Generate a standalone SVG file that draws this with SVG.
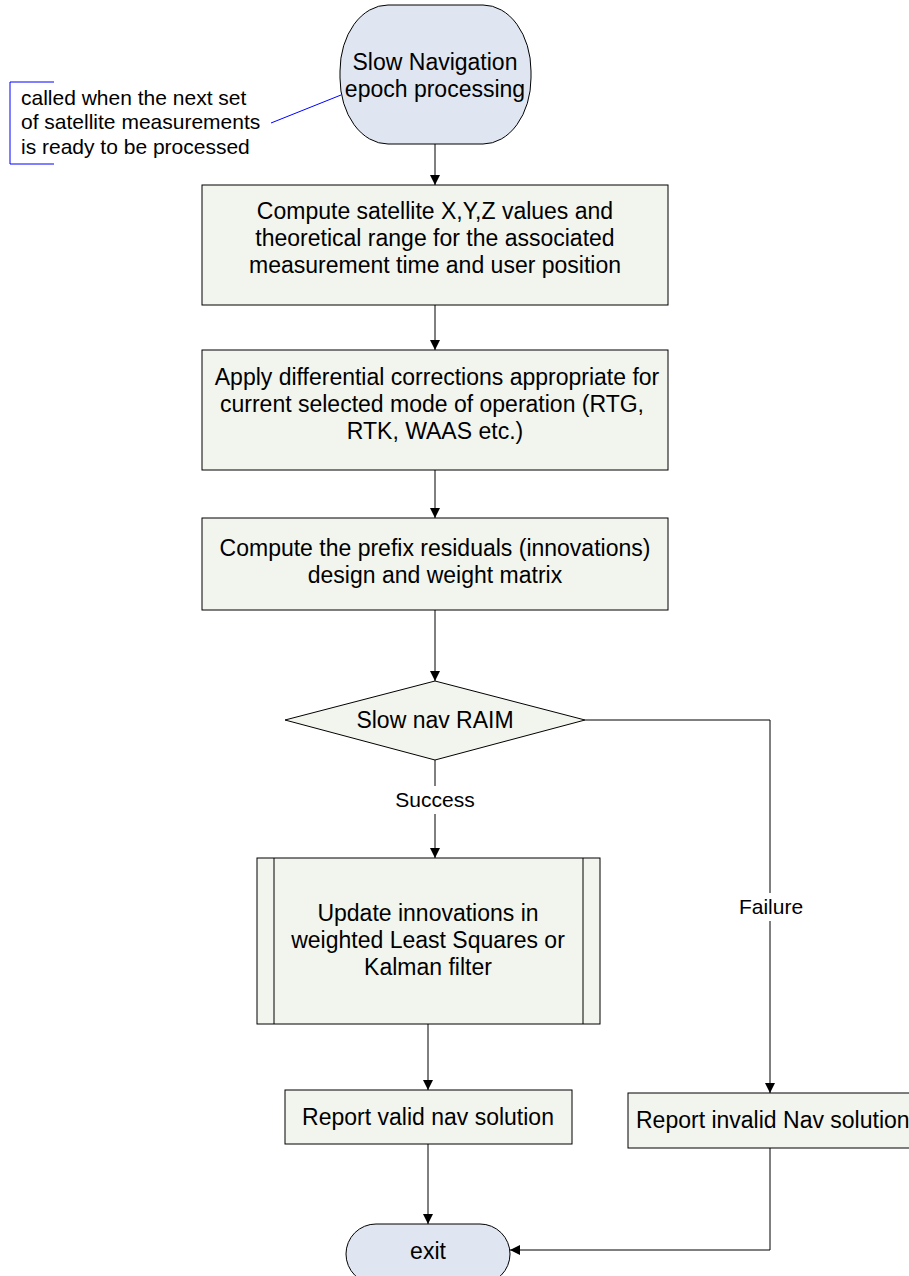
<svg xmlns="http://www.w3.org/2000/svg" width="909" height="1276" viewBox="0 0 909 1276">
  <style>
    text { font-family: "Liberation Sans", Arial, sans-serif; font-size: 23px; fill: #000; }
    .c { text-anchor: middle; }
    .box { fill: #f2f5ee; stroke: #000; stroke-width: 1; }
    .term { fill: #dfe6f1; stroke: #000; stroke-width: 1; }
    .wire { fill: none; stroke: #000; stroke-width: 1; }
    .lbl { font-size: 21px; }
  </style>
  <defs>
    <marker id="arrow" viewBox="0 0 10 10" refX="10" refY="5" markerWidth="10" markerHeight="10" markerUnits="userSpaceOnUse" orient="auto">
      <path d="M0,0 L10,5 L0,10 z" fill="#000"/>
    </marker>
  </defs>
  <rect width="909" height="1276" fill="#fff"/>

  <!-- connectors -->
  <g id="connectors">
    <line class="wire" x1="435" y1="144" x2="435" y2="185" marker-end="url(#arrow)"/>
    <line class="wire" x1="435" y1="305" x2="435" y2="350" marker-end="url(#arrow)"/>
    <line class="wire" x1="435" y1="470" x2="435" y2="518" marker-end="url(#arrow)"/>
    <line class="wire" x1="435" y1="610" x2="435" y2="681" marker-end="url(#arrow)"/>
    <line class="wire" x1="435" y1="760" x2="435" y2="858" marker-end="url(#arrow)"/>
    <line class="wire" x1="428" y1="1024" x2="428" y2="1090" marker-end="url(#arrow)"/>
    <line class="wire" x1="428" y1="1144" x2="428" y2="1224" marker-end="url(#arrow)"/>
    <polyline class="wire" points="585,720 770,720 770,1093" marker-end="url(#arrow)"/>
    <polyline class="wire" points="770,1148 770,1250 510,1250" marker-end="url(#arrow)"/>
    <rect x="390" y="786" width="90" height="28" fill="#fff"/>
    <text class="c lbl" x="435" y="807">Success</text>
    <rect x="734" y="893" width="74" height="28" fill="#fff"/>
    <text class="c lbl" x="771" y="914">Failure</text>
    <!-- annotation callout -->
    <line x1="271" y1="123" x2="341" y2="95" stroke="#0000ff" stroke-width="1"/>
  </g>

  <g id="note">
    <polyline points="54,82 10,82 10,164 54,164" fill="none" stroke="#0000ff" stroke-width="1"/>
    <text x="21" y="105" class="lbl">called when the next set</text>
    <text x="21" y="129" class="lbl">of satellite measurements</text>
    <text x="21" y="154" class="lbl">is ready to be processed</text>
  </g>

  <g id="start">
    <rect class="term" x="340" y="5" width="191" height="139" rx="48" ry="66"/>
    <text class="c" x="435" y="70">Slow Navigation</text>
    <text class="c" x="435" y="97">epoch processing</text>
  </g>

  <g id="compute-xyz">
    <rect class="box" x="202" y="185" width="466" height="120"/>
    <text class="c" x="435" y="219">Compute satellite X,Y,Z values and</text>
    <text class="c" x="435" y="246">theoretical range for the associated</text>
    <text class="c" x="435" y="273">measurement time and user position</text>
  </g>

  <g id="apply-corrections">
    <rect class="box" x="202" y="350" width="466" height="120"/>
    <text class="c" x="437" y="385">Apply differential corrections appropriate for</text>
    <text class="c" x="432" y="412">current selected mode of operation (RTG,</text>
    <text class="c" x="435" y="439">RTK, WAAS etc.)</text>
  </g>

  <g id="compute-residuals">
    <rect class="box" x="202" y="518" width="466" height="92"/>
    <text class="c" x="435" y="556">Compute the prefix residuals (innovations)</text>
    <text class="c" x="435" y="583">design and weight matrix</text>
  </g>

  <g id="raim">
    <polygon class="box" points="435,681 585,720 435,760 285,720"/>
    <text class="c" x="435" y="728">Slow nav RAIM</text>
  </g>

  <g id="update">
    <rect class="box" x="257" y="858" width="343" height="166"/>
    <line class="wire" x1="274" y1="858" x2="274" y2="1024"/>
    <line class="wire" x1="583" y1="858" x2="583" y2="1024"/>
    <text class="c" x="428" y="921">Update innovations in</text>
    <text class="c" x="428" y="948">weighted Least Squares or</text>
    <text class="c" x="428" y="975">Kalman filter</text>
  </g>

  <g id="report-valid">
    <rect class="box" x="285" y="1090" width="287" height="54"/>
    <text class="c" x="428" y="1125">Report valid nav solution</text>
  </g>

  <g id="report-invalid">
    <rect class="box" x="628" y="1093" width="290" height="55"/>
    <text x="636" y="1128">Report invalid Nav solution</text>
  </g>

  <g id="exit">
    <rect class="term" x="346" y="1224" width="164" height="60" rx="30" ry="30"/>
    <text class="c" x="428" y="1259">exit</text>
  </g>
</svg>
